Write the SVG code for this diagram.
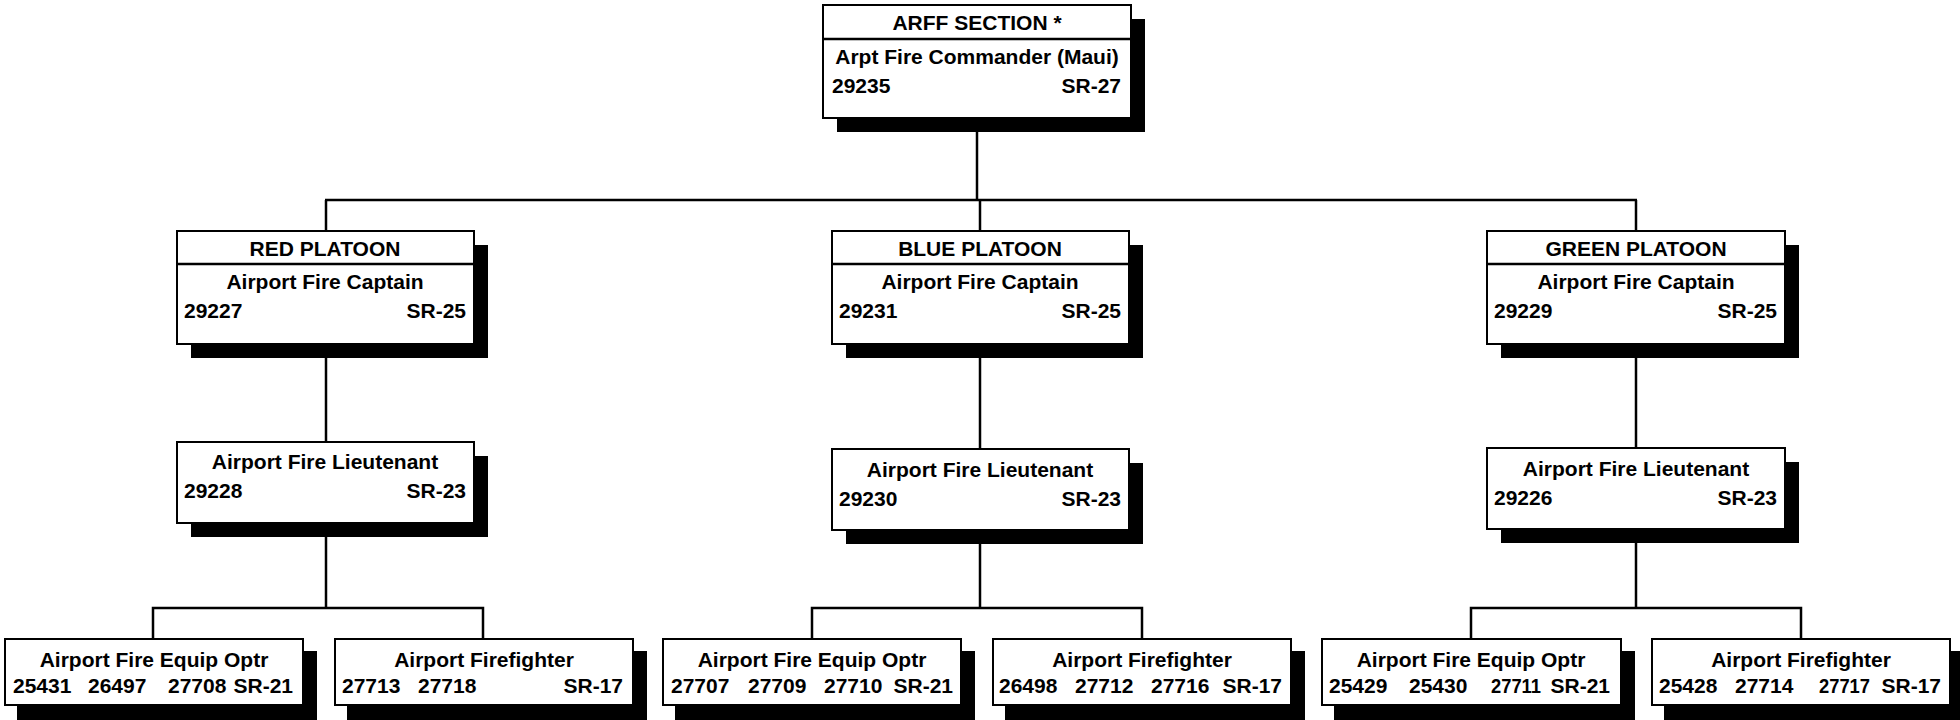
<svg xmlns="http://www.w3.org/2000/svg" width="1960" height="720" viewBox="0 0 1960 720">
<style>
.sh{fill:#000}
.bx{fill:#fff;stroke:#000;stroke-width:2}
.dv{stroke:#000;stroke-width:2.5}
.ln{stroke:#000;stroke-width:2.5;fill:none}
text{font-family:"Liberation Sans",Arial,sans-serif;font-weight:bold;font-size:21px;fill:#000}
.c{text-anchor:middle}
.r{text-anchor:end}
</style>
<rect width="1960" height="720" fill="#fff"/>
<g id="connectors">
<line class="ln" x1="977" y1="118" x2="977" y2="200"/>
<line class="ln" x1="325" y1="200" x2="1637" y2="200"/>
<line class="ln" x1="326" y1="200" x2="326" y2="231"/>
<line class="ln" x1="980" y1="200" x2="980" y2="231"/>
<line class="ln" x1="1636" y1="200" x2="1636" y2="231"/>
<line class="ln" x1="326" y1="344" x2="326" y2="442"/>
<line class="ln" x1="980" y1="344" x2="980" y2="449"/>
<line class="ln" x1="1636" y1="344" x2="1636" y2="448"/>
<line class="ln" x1="326" y1="522" x2="326" y2="608"/>
<line class="ln" x1="980" y1="530" x2="980" y2="608"/>
<line class="ln" x1="1636" y1="528" x2="1636" y2="608"/>
<polyline class="ln" points="153,639 153,608 483,608 483,639"/>
<polyline class="ln" points="812,639 812,608 1142,608 1142,639"/>
<polyline class="ln" points="1471,639 1471,608 1801,608 1801,639"/>
</g>
<g id="arff-section">
<rect class="sh" x="837" y="19" width="308" height="113"/>
<rect class="bx" x="823" y="5" width="308" height="113"/>
<line class="dv" x1="823" y1="39" x2="1131" y2="39"/>
<text class="c" x="977" y="30">ARFF SECTION *</text>
<text class="c" x="977" y="64">Arpt Fire Commander (Maui)</text>
<text x="832" y="93">29235</text>
<text class="r" x="1121" y="93">SR-27</text>
</g>
<g id="red-platoon">
<rect class="sh" x="191" y="245" width="297" height="113"/>
<rect class="bx" x="177" y="231" width="297" height="113"/>
<line class="dv" x1="177" y1="264" x2="474" y2="264"/>
<text class="c" x="325" y="256">RED PLATOON</text>
<text class="c" x="325" y="289">Airport Fire Captain</text>
<text x="184" y="318">29227</text>
<text class="r" x="466" y="318">SR-25</text>
</g>
<g id="blue-platoon">
<rect class="sh" x="846" y="245" width="297" height="113"/>
<rect class="bx" x="832" y="231" width="297" height="113"/>
<line class="dv" x1="832" y1="264" x2="1129" y2="264"/>
<text class="c" x="980" y="256">BLUE PLATOON</text>
<text class="c" x="980" y="289">Airport Fire Captain</text>
<text x="839" y="318">29231</text>
<text class="r" x="1121" y="318">SR-25</text>
</g>
<g id="green-platoon">
<rect class="sh" x="1501" y="245" width="298" height="113"/>
<rect class="bx" x="1487" y="231" width="298" height="113"/>
<line class="dv" x1="1487" y1="264" x2="1785" y2="264"/>
<text class="c" x="1636" y="256">GREEN PLATOON</text>
<text class="c" x="1636" y="289">Airport Fire Captain</text>
<text x="1494" y="318">29229</text>
<text class="r" x="1777" y="318">SR-25</text>
</g>
<g id="red-lieutenant">
<rect class="sh" x="191" y="456" width="297" height="81"/>
<rect class="bx" x="177" y="442" width="297" height="81"/>
<text class="c" x="325" y="469">Airport Fire Lieutenant</text>
<text x="184" y="498">29228</text>
<text class="r" x="466" y="498">SR-23</text>
</g>
<g id="blue-lieutenant">
<rect class="sh" x="846" y="463" width="297" height="81"/>
<rect class="bx" x="832" y="449" width="297" height="81"/>
<text class="c" x="980" y="477">Airport Fire Lieutenant</text>
<text x="839" y="506">29230</text>
<text class="r" x="1121" y="506">SR-23</text>
</g>
<g id="green-lieutenant">
<rect class="sh" x="1501" y="462" width="298" height="81"/>
<rect class="bx" x="1487" y="448" width="298" height="81"/>
<text class="c" x="1636" y="476">Airport Fire Lieutenant</text>
<text x="1494" y="505">29226</text>
<text class="r" x="1777" y="505">SR-23</text>
</g>
<g id="red-equip-optr">
<rect class="sh" x="17" y="651" width="300" height="80"/>
<rect class="bx" x="5" y="639" width="298" height="66"/>
<text class="c" x="154" y="667">Airport Fire Equip Optr</text>
<text x="13" y="693">25431</text>
<text x="88" y="693">26497</text>
<text x="168" y="693">27708</text>
<text class="r" x="293" y="693">SR-21</text>
</g>
<g id="red-firefighter">
<rect class="sh" x="347" y="651" width="300" height="80"/>
<rect class="bx" x="335" y="639" width="298" height="66"/>
<text class="c" x="484" y="667">Airport Firefighter</text>
<text x="342" y="693">27713</text>
<text x="418" y="693">27718</text>
<text class="r" x="623" y="693">SR-17</text>
</g>
<g id="blue-equip-optr">
<rect class="sh" x="675" y="651" width="300" height="80"/>
<rect class="bx" x="663" y="639" width="298" height="66"/>
<text class="c" x="812" y="667">Airport Fire Equip Optr</text>
<text x="671" y="693">27707</text>
<text x="748" y="693">27709</text>
<text x="824" y="693">27710</text>
<text class="r" x="953" y="693">SR-21</text>
</g>
<g id="blue-firefighter">
<rect class="sh" x="1005" y="651" width="300" height="80"/>
<rect class="bx" x="993" y="639" width="298" height="66"/>
<text class="c" x="1142" y="667">Airport Firefighter</text>
<text x="999" y="693">26498</text>
<text x="1075" y="693">27712</text>
<text x="1151" y="693">27716</text>
<text class="r" x="1282" y="693">SR-17</text>
</g>
<g id="green-equip-optr">
<rect class="sh" x="1334" y="651" width="301" height="80"/>
<rect class="bx" x="1322" y="639" width="299" height="66"/>
<text class="c" x="1471" y="667">Airport Fire Equip Optr</text>
<text x="1329" y="693">25429</text>
<text x="1409" y="693">25430</text>
<text x="1491" y="693" textLength="50" lengthAdjust="spacingAndGlyphs">27711</text>
<text class="r" x="1610" y="693">SR-21</text>
</g>
<g id="green-firefighter">
<rect class="sh" x="1664" y="651" width="300" height="80"/>
<rect class="bx" x="1652" y="639" width="298" height="66"/>
<text class="c" x="1801" y="667">Airport Firefighter</text>
<text x="1659" y="693">25428</text>
<text x="1735" y="693">27714</text>
<text x="1819" y="693" textLength="51" lengthAdjust="spacingAndGlyphs">27717</text>
<text class="r" x="1941" y="693">SR-17</text>
</g>
</svg>
